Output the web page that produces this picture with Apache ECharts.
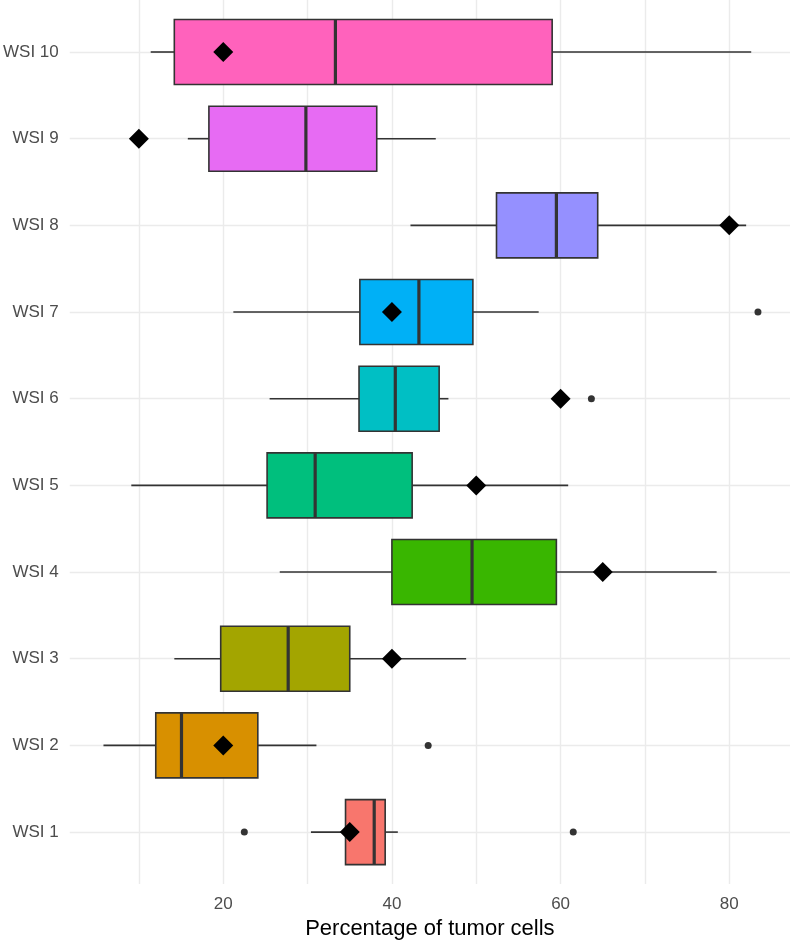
<!DOCTYPE html>
<html>
<head>
<meta charset="utf-8">
<script src="https://cdn.jsdelivr.net/npm/echarts@6/dist/echarts.min.js"></script>
<style>
html,body{margin:0;padding:0;background:#fff;}
#chart{width:790px;height:945px;}
</style>
</head>
<body>
<div id="chart"></div>
<script>
// Categories (bottom to top)
const categories = ['WSI 1','WSI 2','WSI 3','WSI 4','WSI 5','WSI 6','WSI 7','WSI 8','WSI 9','WSI 10'];
// Box statistics
const whiskerLow = [30.4, 5.8, 14.2, 26.7, 9.1, 25.5, 21.2, 42.2, 15.8, 11.4];
const q1Values   = [34.5, 12.0, 19.7, 40.0, 25.2, 36.1, 36.2, 52.4, 18.3, 14.2];
const medians    = [37.9, 15.05, 27.7, 49.5, 30.9, 40.4, 43.2, 59.5, 29.8, 33.3];
const q3Values   = [39.2, 24.1, 35.0, 59.5, 42.4, 45.6, 49.6, 64.4, 38.2, 59.0];
const whiskerHigh= [40.7, 31.05, 48.8, 78.5, 60.9, 46.7, 57.4, 82.0, 45.2, 82.6];
// Diamond markers (reference values)
const meanValues = [35, 20, 40, 65, 50, 60, 40, 80, 10, 20];
// Outliers: [category, value]
const outlierCats   = ['WSI 1','WSI 1','WSI 2','WSI 6','WSI 7'];
const outlierValues = [22.5, 61.5, 44.3, 63.65, 83.4];
// Fill colours
const fillColors = ['#F8766D','#D89000','#A3A500','#39B600','#00BF7D','#00BFC4','#00B0F6','#9590FF','#E76BF3','#FF62BC'];

const boxData = categories.map((c, i) => [whiskerLow[i], q1Values[i], medians[i], q3Values[i], whiskerHigh[i], i + 1]);
const meanData = categories.map((c, i) => [meanValues[i], i + 1]);
const outlierData = outlierCats.map((c, i) => [outlierValues[i], categories.indexOf(c) + 1]);

function renderBox(params, api) {
  const k = api.value(5);
  const lo = api.coord([api.value(0), k]);
  const q1 = api.coord([api.value(1), k]);
  const md = api.coord([api.value(2), k]);
  const q3 = api.coord([api.value(3), k]);
  const hi = api.coord([api.value(4), k]);
  const h = api.size([0, 0.75])[1];
  const stroke = '#333333';
  return {
    type: 'group',
    children: [
      {type: 'line', shape: {x1: lo[0], y1: lo[1], x2: q1[0], y2: q1[1]}, style: {stroke: stroke, lineWidth: 1.6}},
      {type: 'line', shape: {x1: q3[0], y1: q3[1], x2: hi[0], y2: hi[1]}, style: {stroke: stroke, lineWidth: 1.6}},
      {type: 'rect', shape: {x: q1[0], y: q1[1] - h / 2, width: q3[0] - q1[0], height: h},
        style: {fill: fillColors[params.dataIndex], stroke: stroke, lineWidth: 1.6}},
      {type: 'line', shape: {x1: md[0], y1: md[1] - h / 2, x2: md[0], y2: md[1] + h / 2}, style: {stroke: stroke, lineWidth: 3.2}}
    ]
  };
}

const chart = echarts.init(document.getElementById('chart'), null, {renderer: 'canvas'});
const font = 'Liberation Sans, Arial, sans-serif';
chart.setOption({
  animation: false,
  backgroundColor: '#ffffff',
  grid: {left: 68, right: 0, top: 0, bottom: 58, containLabel: false},
  xAxis: {
    type: 'value', min: 1.8, max: 87.2, splitNumber: 9,
    name: 'Percentage of tumor cells', nameLocation: 'middle', nameGap: 31,
    nameTextStyle: {fontFamily: font, fontSize: 22, color: '#000000'},
    axisLine: {show: false}, axisTick: {show: false},
    axisLabel: {
      fontFamily: font, fontSize: 17, color: '#4d4d4d', margin: 12,
      showMinLabel: false, showMaxLabel: false,
      formatter: v => (v % 20 === 0 ? String(v) : '')
    },
    splitLine: {show: true, showMinLine: false, showMaxLine: false, lineStyle: {color: '#ebebeb', width: 1.4}}
  },
  yAxis: {
    type: 'value', min: 0.4, max: 10.6, splitNumber: 10,
    axisLine: {show: false}, axisTick: {show: false},
    axisLabel: {
      fontFamily: font, fontSize: 17, color: '#4d4d4d', margin: 11,
      showMinLabel: false, showMaxLabel: false,
      formatter: v => (Number.isInteger(v) && v >= 1 && v <= categories.length ? categories[v - 1] : '')
    },
    splitLine: {show: true, showMinLine: false, showMaxLine: false, lineStyle: {color: '#ebebeb', width: 1.4}}
  },
  series: [
    {type: 'custom', renderItem: renderBox, data: boxData, encode: {x: [0, 1, 2, 3, 4], y: 5}, z: 2},
    {type: 'scatter', data: outlierData, symbol: 'circle', symbolSize: 7, itemStyle: {color: '#333333', opacity: 1}, z: 3},
    {type: 'scatter', data: meanData, symbol: 'diamond', symbolSize: 20, itemStyle: {color: '#000000', opacity: 1}, z: 4}
  ]
});
</script>
</body>
</html>
